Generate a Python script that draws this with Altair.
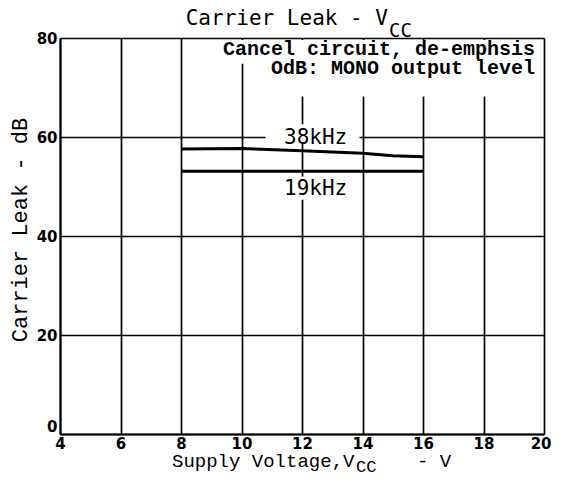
import altair as alt
import pandas as pd

# ---- data ----
volt_38 = [8, 10, 12, 14, 15, 16]
leak_38 = [57.6, 57.7, 57.2, 56.7, 56.2, 56.0]
volt_19 = [8, 12, 16]
leak_19 = [53.1, 53.1, 53.1]

x_ticks = [4, 6, 8, 10, 12, 14, 16, 18, 20]
y_ticks = [0, 20, 40, 60, 80]

curve_labels = ["38kHz", "19kHz"]
curve_label_x = [12.45, 12.45]
curve_label_y = [59.8, 49.4]

note_lines = ["Cancel circuit, de-emphsis", "OdB: MONO output level"]

# white backgrounds behind the annotation texts (data units)
mask_x = [8.5, 10.25, 10.8, 10.8]
mask_x2 = [19.93, 19.93, 13.9, 13.9]
mask_y = [74.8, 68.2, 58.9, 47.3]
mask_y2 = [79.6, 74.8, 62.6, 52.0]

df = pd.concat([
    pd.DataFrame({"V": volt_38, "dB": leak_38, "s": "38kHz"}),
    pd.DataFrame({"V": volt_19, "dB": leak_19, "s": "19kHz"}),
])
lab = pd.DataFrame({"t": curve_labels, "x": curve_label_x, "y": curve_label_y})
masks = pd.DataFrame({"x": mask_x, "x2": mask_x2, "y": mask_y, "y2": mask_y2})

xs = alt.Scale(domain=[4, 20], nice=False, zero=False)
ys = alt.Scale(domain=[0, 80], nice=False)

tick_font = dict(labelFont="DejaVu Sans", labelFontWeight="bold", labelFontSize=15,
                 labelColor="black", grid=True, gridColor="black", gridWidth=1.7,
                 gridOpacity=1, ticks=False, domainColor="black", domainWidth=2,
                 title=None)

base = alt.Chart(df)

lines = base.mark_line(color="black", strokeWidth=3).encode(
    x=alt.X("V:Q", scale=xs, axis=alt.Axis(
        values=x_ticks, labelPadding=2, labelFlush=False,
        labelAlign={"condition": {"test": "datum.value == 20", "value": "right"},
                    "value": "center"},
        labelOffset={"condition": {"test": "datum.value == 20", "value": 7},
                     "value": 0},
        **tick_font)),
    y=alt.Y("dB:Q", scale=ys, axis=alt.Axis(
        values=y_ticks, labelPadding=3,
        labelBaseline={"condition": {"test": "datum.value == 0", "value": "bottom"},
                       "value": "middle"},
        **tick_font)),
    detail="s:N",
)

mask = alt.Chart(masks).mark_rect(color="white").encode(
    x="x:Q", x2="x2:Q", y="y:Q", y2="y2:Q"
)

labels = alt.Chart(lab).mark_text(font="DejaVu Sans Mono", fontSize=21, color="black").encode(
    x=alt.X("x:Q", scale=xs), y=alt.Y("y:Q", scale=ys), text="t:N"
)

def txt(s, x, y, size, font="Liberation Mono", align="left", angle=0, weight="normal"):
    kw = dict(text=s, font=font, fontSize=size, align=align, baseline="middle",
              color="black", fontWeight=weight)
    if angle:
        kw["angle"] = angle
    return alt.Chart(pd.DataFrame({"a": [0]})).mark_text(**kw).encode(
        x=alt.value(x), y=alt.value(y))

notes = [
    txt(note_lines[0], 475, 11, 20, align="right", weight="bold"),
    txt(note_lines[1], 475, 30, 20, align="right", weight="bold"),
]
title = [
    txt("Carrier Leak - V", 328, -19, 21, font="DejaVu Sans Mono", align="right"),
    txt("CC", 329, -7, 19, font="DejaVu Sans Mono"),
]
xtitle = [
    txt("Supply Voltage,V", 112, 423, 19),
    txt("CC", 296, 429, 17),
    txt("- V", 357, 423, 19),
]
ytitle = [txt("Carrier Leak - dB", -40, 192, 22, align="center", angle=270)]

chart = alt.layer(lines, mask, labels, *notes, *title, *xtitle, *ytitle).properties(
    width=484, height=396,
    autosize=alt.AutoSizeParams(type="none"),
    padding={"left": 52, "top": 30, "right": 9, "bottom": 42},
).configure_view(stroke="black", strokeWidth=2).configure(background="white")

chart.save("out.html", embed_options={"renderer": "svg", "actions": False})
